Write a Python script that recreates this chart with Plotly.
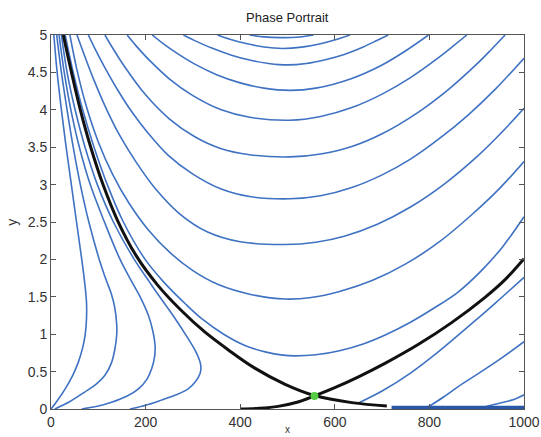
import plotly.graph_objects as go

# ---------------- data ----------------
# left family (trajectories starting near the origin)
a_x = [0, 12, 30, 46, 58, 67, 72, 75, 75, 71, 65, 54, 43, 32, 22, 13, 6]
a_y = [0, 0.1, 0.27, 0.45, 0.63, 0.82, 0.98, 1.2, 1.43, 1.7, 2.0, 2.5, 3.0, 3.5, 4.0, 4.5, 5.0]
b_x = [8, 40, 72, 95, 114, 128, 135, 139, 139, 135, 127, 118, 102, 80, 62, 47, 34, 22, 12]
b_y = [0.0, 0.1, 0.23, 0.33, 0.45, 0.62, 0.8, 1.0, 1.12, 1.35, 1.55, 1.7, 2.0, 2.5, 3.0, 3.5, 4.0, 4.5, 5.0]
c_x = [65, 100, 128, 160, 185, 203, 213, 219, 220, 215, 206, 190, 171, 146, 113, 83, 60, 42, 28, 17]
c_y = [0.0, 0.04, 0.09, 0.17, 0.27, 0.4, 0.54, 0.7, 0.85, 1.05, 1.25, 1.48, 1.7, 2.0, 2.5, 3.0, 3.5, 4.0, 4.5, 5.0]
d_x = [167, 200, 234, 265, 290, 306, 315, 317, 315, 305, 290, 258, 223, 208, 176, 132, 98, 72, 51, 34, 22]
d_y = [0.0, 0.05, 0.12, 0.19, 0.27, 0.37, 0.47, 0.55, 0.63, 0.78, 0.94, 1.25, 1.56, 1.7, 2.0, 2.5, 3.0, 3.5, 4.0, 4.5, 5.0]

# U-shaped family (above the stable separatrix)
u1_x = [30, 47, 67, 91, 119, 153, 199, 238, 285, 320, 365, 410, 455, 490, 515,
        560, 610, 660, 710, 760, 810, 860, 910, 955, 1000]
u1_y = [5.0, 4.5, 4.0, 3.5, 3.0, 2.5, 2.0, 1.7, 1.4, 1.2, 1.0, 0.85, 0.76, 0.72, 0.71,
        0.725, 0.78, 0.87, 1.0, 1.16, 1.35, 1.56, 1.85, 2.17, 2.57]
u2_x = [40, 55, 75, 100, 130, 165, 205, 250, 300, 355, 420, 495,
        550, 610, 680, 750, 820, 890, 950, 1000]
u2_y = [5.0, 4.53, 4.04, 3.57, 3.14, 2.75, 2.4, 2.1, 1.85, 1.66, 1.535, 1.47,
        1.49, 1.57, 1.72, 1.94, 2.23, 2.6, 2.96, 3.31]
u3_x = [55, 70, 90, 115, 145, 180, 220, 270, 330, 400, 495,
        560, 620, 690, 760, 830, 900, 950, 1000]
u3_y = [5.0, 4.74, 4.41, 4.04, 3.66, 3.3, 2.95, 2.62, 2.37, 2.236, 2.2,
        2.23, 2.31, 2.47, 2.7, 3.0, 3.37, 3.68, 4.02]
u4_x = [79, 95, 115, 140, 170, 205, 248, 300, 360, 420, 505,
        570, 636, 700, 760, 820, 880, 940, 1000]
u4_y = [5.0, 4.79, 4.55, 4.275, 3.98, 3.69, 3.39, 3.14, 2.94, 2.84, 2.81,
        2.85, 2.96, 3.13, 3.34, 3.61, 3.92, 4.28, 4.69]
u5_x = [114, 130, 150, 200, 250, 304, 360, 420, 505, 570, 636, 700, 777, 840, 900, 930, 960]
u5_y = [5.0, 4.83, 4.63, 4.2, 3.88, 3.64, 3.48, 3.4, 3.37, 3.41, 3.51, 3.68, 3.97, 4.27, 4.61, 4.8, 5.0]
u6_x = [161, 180, 210, 250, 300, 360, 420, 505, 570, 636, 700, 760, 820, 850, 879]
u6_y = [5.0, 4.855, 4.65, 4.415, 4.19, 4.0, 3.9, 3.86, 3.91, 4.03, 4.21, 4.43, 4.7, 4.85, 5.0]
u7_x = [214, 240, 270, 304, 350, 400, 450, 505, 560, 636, 700, 750, 798]
u7_y = [5.0, 4.87, 4.74, 4.61, 4.47, 4.36, 4.29, 4.26, 4.29, 4.42, 4.6, 4.79, 5.0]
u8_x = [280, 304, 340, 380, 420, 460, 500, 540, 580, 620, 660, 690, 713]
u8_y = [5.0, 4.925, 4.825, 4.734, 4.665, 4.62, 4.6, 4.62, 4.67, 4.74, 4.84, 4.93, 5.0]
u9_x = [352, 380, 410, 450, 490, 530, 570, 605, 632]
u9_y = [5.0, 4.94, 4.89, 4.84, 4.82, 4.838, 4.884, 4.943, 5.0]
u10_x = [420, 450, 485, 520, 555]
u10_y = [5.0, 4.975, 4.965, 4.97, 5.0]

# right family (below the unstable separatrix)
r1_x = [650, 700, 760, 820, 880, 940, 1000]
r1_y = [0.08, 0.24, 0.48, 0.77, 1.09, 1.42, 1.76]
r2_x = [798, 830, 861, 900, 950, 1000]
r2_y = [0.03, 0.16, 0.3, 0.46, 0.67, 0.9]
r3_x = [918, 950, 980, 1000]
r3_y = [0.03, 0.08, 0.13, 0.19]
floor_x = [720, 1000]
floor_y = [0.02, 0.02]

# separatrices
stable_x = [26, 44, 62, 84, 110, 140, 180, 225, 275, 325, 375, 430, 495, 557, 636, 710]
stable_y = [5.0, 4.48, 4.0, 3.5, 3.0, 2.53, 2.05, 1.66, 1.32, 1.03, 0.79, 0.55, 0.33, 0.18, 0.085, 0.04]
unstable_x = [400, 440, 480, 520, 557, 600, 650, 706, 777, 847, 917, 960, 1000]
unstable_y = [0.0, 0.01, 0.035, 0.09, 0.175, 0.285, 0.43, 0.61, 0.865, 1.155, 1.49, 1.73, 2.01]

# saddle point
saddle_x = [557]
saddle_y = [0.175]

x_ticks = [0, 200, 400, 600, 800, 1000]
y_ticks = [0, 0.5, 1, 1.5, 2, 2.5, 3, 3.5, 4, 4.5, 5]

# ---------------- figure ----------------
BLUE = "#3f72c2"
FONT = "Liberation Sans, Arial, sans-serif"
fig = go.Figure()

blue_curves = [(a_x, a_y), (b_x, b_y), (c_x, c_y), (d_x, d_y),
               (u1_x, u1_y), (u2_x, u2_y), (u3_x, u3_y), (u4_x, u4_y), (u5_x, u5_y),
               (u6_x, u6_y), (u7_x, u7_y), (u8_x, u8_y), (u9_x, u9_y), (u10_x, u10_y),
               (r1_x, r1_y), (r2_x, r2_y), (r3_x, r3_y)]
for xs, ys in blue_curves:
    fig.add_trace(go.Scatter(x=xs, y=ys, mode="lines",
                             line=dict(color=BLUE, width=1.6, shape="spline", smoothing=1.0),
                             hoverinfo="skip", showlegend=False))

fig.add_trace(go.Scatter(x=floor_x, y=floor_y, mode="lines",
                         line=dict(color="#2a58a8", width=3.5),
                         hoverinfo="skip", showlegend=False))

for xs, ys in [(stable_x, stable_y), (unstable_x, unstable_y)]:
    fig.add_trace(go.Scatter(x=xs, y=ys, mode="lines",
                             line=dict(color="#111111", width=3, shape="spline", smoothing=1.0),
                             hoverinfo="skip", showlegend=False))

fig.add_trace(go.Scatter(x=saddle_x, y=saddle_y, mode="markers",
                         marker=dict(color="#55cc44", size=8, line=dict(width=0)),
                         hoverinfo="skip", showlegend=False))

axis_common = dict(showgrid=False, zeroline=False, showline=True, linecolor="#555555",
                   linewidth=1, mirror="ticks", ticks="inside", ticklen=5, automargin=False,
                   tickcolor="#555555", tickfont=dict(family=FONT, size=14, color="#333333"))

fig.update_layout(
    width=541, height=437,
    margin=dict(l=51, r=17, t=35, b=28, autoexpand=False),
    paper_bgcolor="white", plot_bgcolor="white",
    title=dict(text="Phase Portrait", x=0.531, xanchor="center", xref="container",
               y=1 - 17 / 437, yanchor="middle", yref="container",
               font=dict(family=FONT, size=13, color="#222222")),
    xaxis=dict(range=[0, 1000], tickvals=x_ticks, **axis_common),
    yaxis=dict(range=[0, 5], tickvals=y_ticks, **axis_common),
    annotations=[
        dict(text="y", xref="paper", yref="paper", x=-0.083, y=0.5, textangle=-90,
             showarrow=False, xanchor="center", yanchor="middle",
             font=dict(family=FONT, size=14, color="#333333")),
        dict(text="x", xref="paper", yref="paper", x=0.5, y=-0.074,
             showarrow=False, xanchor="center", yanchor="bottom",
             font=dict(family=FONT, size=10, color="#333333")),
    ],
)

fig.write_html("out.html")
